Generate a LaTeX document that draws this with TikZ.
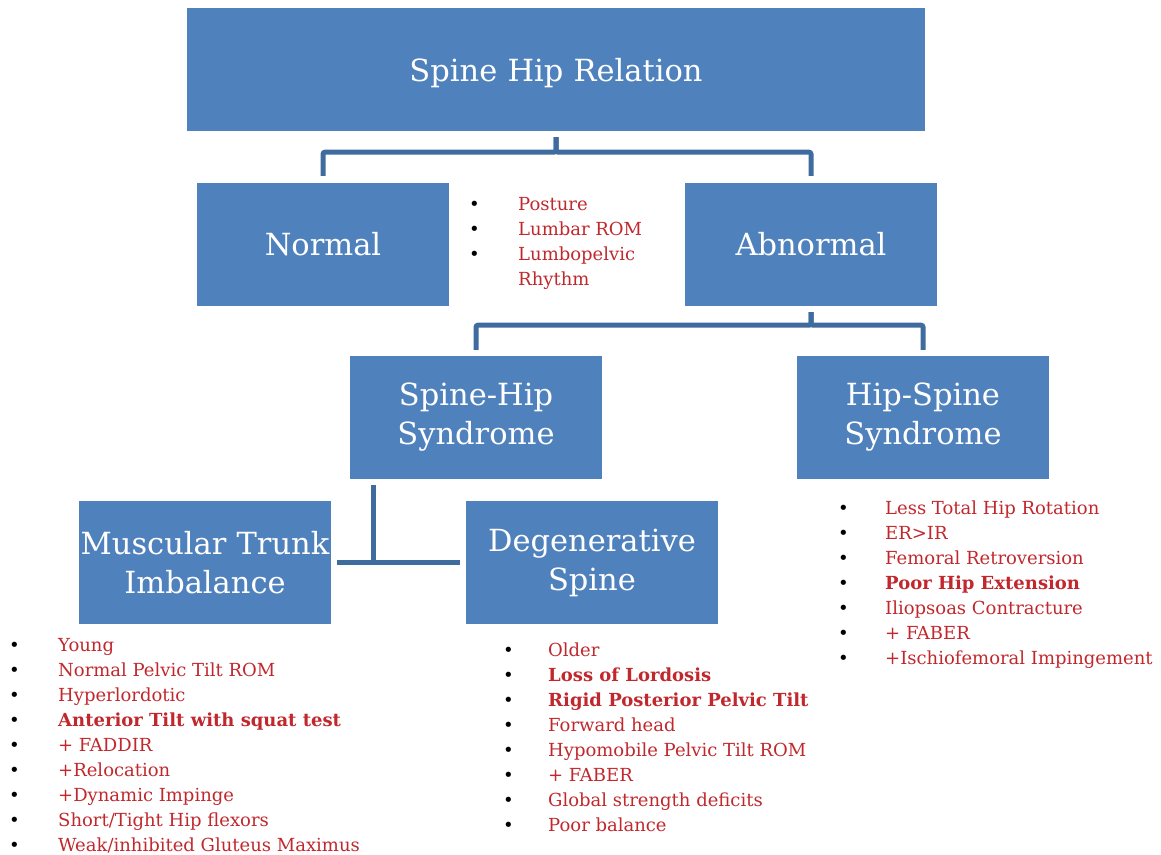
\documentclass[tikz,border=0pt]{standalone}
\usepackage{fontspec}
\setmainfont{DejaVu Serif}
\usetikzlibrary{positioning}
\definecolor{boxblue}{HTML}{4F81BD}
\definecolor{linkblue}{HTML}{3F6C9E}
\definecolor{listred}{HTML}{C0282D}
\newcommand{\li}[2][49pt]{\makebox[#1][l]{\textcolor{black}{\textbullet}}#2}

\begin{document}
\begin{tikzpicture}[x=1pt, y=-1pt,
    box/.style={fill=boxblue, text width=252pt, inner xsep=0pt, minimum height=123pt,
                align=center, text=white, font=\fontsize{30.5}{39}\selectfont},
    link/.style={draw=linkblue, line width=5pt, rounded corners=2pt},
    bullets/.style={anchor=base west, inner sep=0pt, align=left, text=listred,
                    font=\fontsize{18}{25}\selectfont}]
  \useasboundingbox (0,0) rectangle (1161,854);
  % boxes
  \node[box, text width=738pt, text depth=0pt] (rel) at (556,69.5) {Spine Hip Relation};
  \node[box] (normal) at (323,244.5) {Normal};
  \node[box] (abn) at (811,244.5) {Abnormal};
  \node[box] (sh) at (476,417.5) {Spine-Hip\\Syndrome};
  \node[box] (hs) at (923,417.5) {Hip-Spine\\Syndrome};
  \node[box] (mti) at (205,562.5) {Muscular Trunk\\Imbalance};
  \node[box] (deg) at (592,562.5) {Degenerative\\Spine};
  % links
  \draw[link] ([yshift=-6pt]rel.south) -- ++(0,15) -| ([yshift=7pt]normal.north);
  \draw[link] ([yshift=-6pt]rel.south) -- ++(0,15) -| ([yshift=7pt]abn.north);
  \draw[link] ([yshift=-6pt]abn.south) -- ++(0,13) -| ([yshift=6pt]sh.north);
  \draw[link] ([yshift=-6pt]abn.south) -- ++(0,13) -| ([yshift=6pt]hs.north);
  \coordinate (shfoot) at ([xshift=-103pt]sh.south);
  \draw[link] ([yshift=-6pt]shfoot) -- (shfoot |- mti.east);
  \draw[link] ([xshift=6pt]mti.east) -- ([xshift=-6pt]deg.west);
  % lists (anchored at the last baseline)
  \node[bullets] (nlist) at (469,285) {\li{Posture}\\\li{Lumbar ROM}\\\li{Lumbopelvic}\\\hspace*{49pt}Rhythm};
  \node[bullets] (mlist) at (9,851) {\li{Young}\\\li{Normal Pelvic Tilt ROM}\\\li{Hyperlordotic}\\
    \li{\textbf{Anterior Tilt with squat test}}\\\li{+ FADDIR}\\\li{+Relocation}\\
    \li{+Dynamic Impinge}\\\li{Short/Tight Hip flexors}\\\li{Weak/inhibited Gluteus Maximus}};
  \node[bullets] (dlist) at (503,831) {\li[45pt]{Older}\\\li[45pt]{\textbf{Loss of Lordosis}}\\
    \li[45pt]{\textbf{Rigid Posterior Pelvic Tilt}}\\\li[45pt]{Forward head}\\
    \li[45pt]{Hypomobile Pelvic Tilt ROM}\\\li[45pt]{+ FABER}\\\li[45pt]{Global strength deficits}\\
    \li[45pt]{Poor balance}};
  \node[bullets] (hlist) at (838,664) {\li[47pt]{Less Total Hip Rotation}\\\li[47pt]{ER>IR}\\
    \li[47pt]{Femoral Retroversion}\\\li[47pt]{\textbf{Poor Hip Extension}}\\
    \li[47pt]{Iliopsoas Contracture}\\\li[47pt]{+ FABER}\\\li[47pt]{+Ischiofemoral Impingement}};
\end{tikzpicture}
\end{document}
